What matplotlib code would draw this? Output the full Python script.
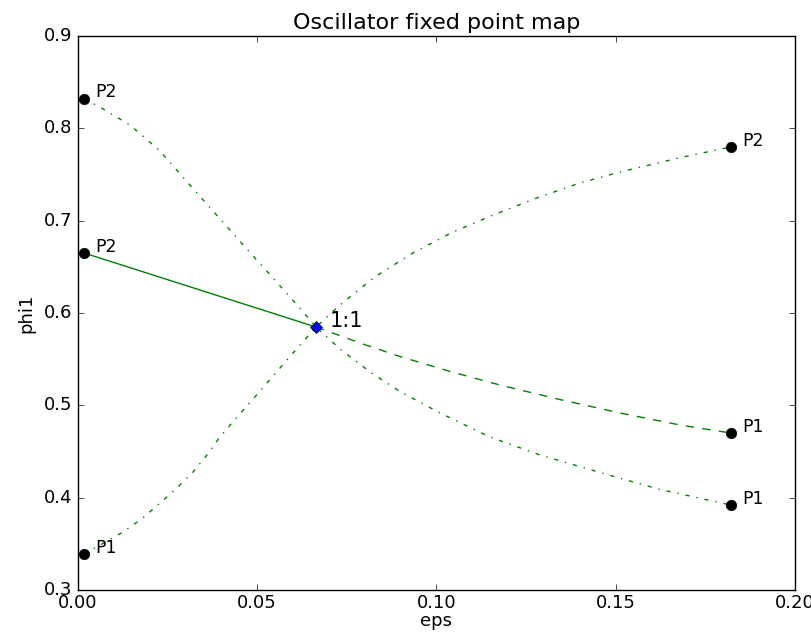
import matplotlib
matplotlib.use("Agg")
import matplotlib.pyplot as plt

plt.style.use("classic")
plt.rcParams["xtick.labelsize"] = 13
plt.rcParams["ytick.labelsize"] = 13
plt.rcParams["axes.labelsize"] = 13

# branch leaving P2 (top left) and ending at P1 (lower right)
down_eps = [0.0017, 0.0061, 0.0145, 0.0229, 0.0312, 0.0388, 0.0471, 0.0544, 0.0619,
            0.0664, 0.0731, 0.0815, 0.0898, 0.1010, 0.1149, 0.1289, 0.1456, 0.1623,
            0.1821]
down_phi = [0.832, 0.8231, 0.8036, 0.7755, 0.7386, 0.7056, 0.6693, 0.6379, 0.6054,
            0.5848, 0.5610, 0.5361, 0.5150, 0.4917, 0.4657, 0.4462, 0.4273, 0.4089,
            0.3920]

# branch leaving P1 (bottom left) and ending at P2 (upper right)
up_eps = [0.0017, 0.0047, 0.0126, 0.0181, 0.0229, 0.0276, 0.0321, 0.0360, 0.0396,
          0.0432, 0.0508, 0.0583, 0.0664, 0.0731, 0.0828, 0.0934, 0.1046, 0.1158,
          0.1280, 0.1400, 0.1512, 0.1688, 0.1821]
up_phi = [0.339, 0.3455, 0.3628, 0.3780, 0.3942, 0.4105, 0.4278, 0.4462, 0.4657,
          0.4820, 0.5155, 0.5491, 0.5848, 0.6087, 0.6390, 0.6650, 0.6877, 0.7061,
          0.7246, 0.7408, 0.7527, 0.7690, 0.7798]

# stable branch (solid) and its continuation past the fixed point (dashed)
solid_eps = [0.0017, 0.0664]
solid_phi = [0.665, 0.5848]
dash_eps = [0.0664, 0.0795, 0.0898, 0.1038, 0.1177, 0.1344, 0.1512, 0.1679, 0.1821]
dash_phi = [0.5848, 0.5664, 0.5529, 0.5367, 0.5220, 0.5063, 0.4917, 0.4787, 0.4700]

# end points and labels
end_eps = [0.0017, 0.0017, 0.0017, 0.1821, 0.1821, 0.1821]
end_phi = [0.832, 0.665, 0.339, 0.7798, 0.4700, 0.3920]
end_lab = ["P2", "P2", "P1", "P2", "P1", "P1"]

fp_eps, fp_phi, fp_lab = 0.0664, 0.5848, "1:1"

fig = plt.figure(figsize=(8.12, 6.32), dpi=100, facecolor="white")
ax = fig.add_axes([0.096, 0.0665, 0.883, 0.8765])

ax.plot(down_eps, down_phi, color="g", ls="-.", lw=1)
ax.plot(up_eps, up_phi, color="g", ls="-.", lw=1)
ax.plot(solid_eps, solid_phi, color="g", ls="-", lw=1)
ax.plot(dash_eps, dash_phi, color="g", ls="--", lw=1)

ax.plot(end_eps, end_phi, "o", color="k", ms=7.5, zorder=5)
for x, y, s in zip(end_eps, end_phi, end_lab):
    ax.annotate(s, (x, y), xytext=(8, 1), textcoords="offset points", fontsize=12.5)

ax.plot([fp_eps], [fp_phi], "D", color="b", ms=6.5, zorder=6)
ax.annotate(fp_lab, (fp_eps, fp_phi), xytext=(10, 0), textcoords="offset points", fontsize=15)

ax.set_xlim(0, 0.2)
ax.set_ylim(0.3, 0.9)
ax.tick_params(axis="x", pad=3)
ax.set_xlabel("eps", labelpad=0)
ax.set_ylabel("phi1", labelpad=6)
ax.set_title("Oscillator fixed point map", fontsize=16, pad=5)

fig.savefig("out.png", dpi=100, facecolor="white")
